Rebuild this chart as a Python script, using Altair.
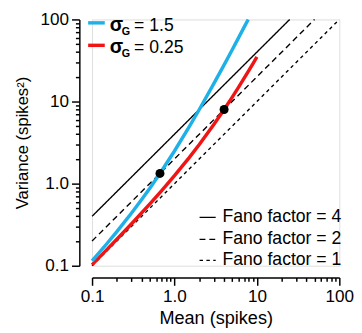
import altair as alt
import pandas as pd

# ---- data ----
blue_mean = [0.1, 0.15, 0.2, 0.3, 0.4, 0.5, 0.7, 1.0, 1.5, 2.0, 3.0, 4.0, 5.0, 6.0, 7.0, 7.84]
blue_var = [0.115, 0.184, 0.26, 0.435, 0.64, 0.875, 1.435, 2.5, 4.875, 8.0, 16.5, 28.0, 42.5, 60.0, 80.5, 100.0]
red_mean = [0.1, 0.15, 0.2, 0.3, 0.5, 0.7, 1.0, 1.5, 2.0, 3.0, 4.0, 5.0, 6.0, 7.0, 8.0, 9.0, 10.0]
red_var = [0.1025, 0.156, 0.21, 0.3225, 0.5625, 0.8225, 1.25, 2.06, 3.0, 5.25, 8.0, 11.25, 15.0, 19.25, 24.0, 29.25, 35.0]
dot_mean = [0.667, 4.0]
dot_var = [1.333, 8.0]
fano_factor = [4, 2, 1]
fano_start_mean = [0.1, 0.1, 0.1]
fano_end_mean = [25.0, 50.0, 100.0]
tick_values = [0.1, 0.2, 0.3, 0.4, 0.5, 0.6, 0.7, 0.8, 0.9,
               1, 2, 3, 4, 5, 6, 7, 8, 9,
               10, 20, 30, 40, 50, 60, 70, 80, 90, 100]

FONT = "Liberation Sans"
BLUE = "#1DB1E8"
RED = "#F01414"

label_expr = ("datum.value == 0.1 ? '0.1' : datum.value == 1 ? '1.0' : "
              "datum.value == 10 ? '10' : datum.value == 100 ? '100' : ''")
tick_size = {"condition": {"test": "datum.value == 0.1 || datum.value == 1 || datum.value == 10 || datum.value == 100",
                           "value": 8}, "value": 4}

def axis(title, offset, title_size, title_pad):
    return alt.Axis(values=tick_values, labelExpr=label_expr, tickSize=tick_size,
                    offset=offset, grid=False, title=title, labelFontSize=17.5,
                    titleFontSize=title_size, titleFontWeight="normal", labelFont=FONT, titleFont=FONT,
                    labelColor="black", titleColor="black", domainColor="black",
                    tickColor="black", domainWidth=1.5, tickWidth=1.5,
                    labelOverlap=False, labelFlush=False, labelPadding=3, titlePadding=title_pad)

xs = alt.Scale(type="log", domain=[0.1, 100])
ys = alt.Scale(type="log", domain=[0.1, 100])
X = alt.X("mean:Q", scale=xs, axis=axis("Mean (spikes)", 12, 18.5, 4))
Y = alt.Y("var:Q", scale=ys, axis=axis("Variance (spikes²)", 13, 17, 9))

fano_rows = []
for f, a, b in zip(fano_factor, fano_start_mean, fano_end_mean):
    fano_rows.append({"fano": f, "mean": a, "var": a * f})
    fano_rows.append({"fano": f, "mean": b, "var": b * f})
fano_df = pd.DataFrame(fano_rows)

dashes = {4: [1, 0], 2: [6, 4], 1: [3.5, 3.5]}
layers = []
for f in fano_factor:
    layers.append(alt.Chart(fano_df[fano_df.fano == f]).mark_line(
        color="black", strokeWidth=1.4, strokeDash=dashes[f]).encode(x=X, y=Y))

red_df = pd.DataFrame({"mean": red_mean, "var": red_var})
blue_df = pd.DataFrame({"mean": blue_mean, "var": blue_var})
dot_df = pd.DataFrame({"mean": dot_mean, "var": dot_var})
layers.append(alt.Chart(red_df).mark_line(color=RED, strokeWidth=3.5).encode(x=X, y=Y))
layers.append(alt.Chart(blue_df).mark_line(color=BLUE, strokeWidth=3.5).encode(x=X, y=Y))
layers.append(alt.Chart(dot_df).mark_point(filled=True, color="black", size=85, opacity=1).encode(x=X, y=Y))

one = pd.DataFrame({"k": [0]})

# top-left legend
for color, val, dy in [(BLUE, "= 1.5", 0), (RED, "= 0.25", 23)]:
    layers.append(alt.Chart(one).mark_rule(color=color, strokeWidth=3.5).encode(
        x=alt.value(-4), x2=alt.value(13), y=alt.value(3.5 + dy)))
    layers.append(alt.Chart(one).mark_text(font=FONT, fontSize=20, fontWeight="bold", align="left",
                                           baseline="alphabetic", color="black").encode(
        x=alt.value(18), y=alt.value(11.5 + dy), text=alt.value("σ")))
    layers.append(alt.Chart(one).mark_text(font=FONT, fontSize=11, fontWeight="bold", align="left",
                                           baseline="alphabetic", color="black").encode(
        x=alt.value(30.5), y=alt.value(15.5 + dy), text=alt.value("G")))
    layers.append(alt.Chart(one).mark_text(font=FONT, fontSize=18, align="left",
                                           baseline="alphabetic", color="black").encode(
        x=alt.value(43), y=alt.value(11.5 + dy), text=alt.value(val)))

# bottom-right legend
for f, dy in zip(fano_factor, [202.5, 225, 246.5]):
    layers.append(alt.Chart(one).mark_rule(color="black", strokeWidth=1.4, strokeDash=dashes[f]).encode(
        x=alt.value(110), x2=alt.value(126.5), y=alt.value(dy)))
    layers.append(alt.Chart(one).mark_text(font=FONT, fontSize=18, align="left",
                                           baseline="middle", color="black").encode(
        x=alt.value(133.5), y=alt.value(dy), text=alt.value(f"Fano factor = {f}")))

chart = alt.layer(*layers).properties(
    width=253, height=252,
    autosize=alt.AutoSizeParams(type="none"),
    padding={"left": 86, "top": 8, "right": 15, "bottom": 60},
).configure_view(stroke=None).configure(background="white")

chart.save("out.html", embed_options={"renderer": "svg", "actions": False})
